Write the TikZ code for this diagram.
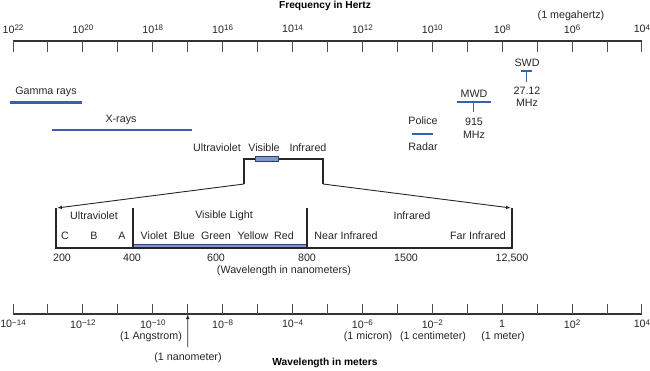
\documentclass[tikz,border=0pt]{standalone}
\usepackage{fontspec}
\setmainfont{Liberation Sans}
\usetikzlibrary{arrows.meta}
\definecolor{specblue}{HTML}{3A5FAD}
\definecolor{visfill}{HTML}{8397C9}
\definecolor{visedge}{HTML}{2E3F6E}
\newcommand{\sx}[1]{10\raisebox{0.45ex}{\fontsize{8}{9}\selectfont #1}}
\begin{document}
\begin{tikzpicture}[x=1pt,y=-1pt,
  font=\fontsize{10.7}{12.5}\selectfont,
  lbl/.style={inner sep=0pt, anchor=center, text=black!85},
  ttl/.style={inner sep=0pt, anchor=center, font=\fontsize{10.2}{12}\selectfont\bfseries},
  axis/.style={line width=1.1pt, black!80},
  tck/.style={line width=0.9pt, black!70},
  band/.style={line width=2.4pt, specblue},
  stem/.style={line width=1.3pt, specblue},
  brk/.style={line width=1.1pt, black!85},
  arr/.style={line width=0.9pt, black!85, -{Latex[length=5pt,width=3.5pt]}}]
\useasboundingbox (0,0) rectangle (650,371);

% ---------- Frequency axis ----------
\node[ttl] (ftitle) at (325,6) {Frequency in Hertz};
\coordinate (fa) at (13,41);
\coordinate (fb) at (642,41);
\draw[axis] (fa) -- (fb);
\foreach \i in {0,...,18} {
  \coordinate (ft\i) at ({13+34.94*\i},41);
  \coordinate (fe\i) at ({13+34.94*\i},52);
  \draw[tck] (ft\i) -- (fe\i);
}
\foreach \i/\e in {0/22,2/20,4/18,6/16,8/14,10/12,12/10,14/8,16/6,18/4} {
  \node[lbl] (fl\i) at ({13+34.94*\i},29) {\sx{\e}};
}
\node[lbl] (mhz) at (571,16) {(1 megahertz)};

% ---------- Bands ----------
\node[lbl] (gamma) at (46,92) {Gamma rays};
\coordinate (g1) at (10,102.5); \coordinate (g2) at (82,102.5);
\draw[band] (g1) -- (g2);
\node[lbl] (xray) at (121,120) {X-rays};
\coordinate (x1) at (52,130); \coordinate (x2) at (192,130);
\draw[band] (x1) -- (x2);

\node[lbl] (police) at (423,121) {Police};
\coordinate (p1) at (412,134); \coordinate (p2) at (433,134);
\draw[band] (p1) -- (p2);
\node[lbl] (radar) at (423,147) {Radar};

\node[lbl] (mwd) at (474,94) {MWD};
\coordinate (m1) at (457,102); \coordinate (m2) at (491,102);
\coordinate (ms1) at (473.5,102); \coordinate (ms2) at (473.5,112);
\draw[band] (m1) -- (m2);
\draw[stem] (ms1) -- (ms2);
\node[lbl, align=center] (mwdf) at (474,128.5) {915\\MHz};

\node[lbl] (swd) at (527,63) {SWD};
\coordinate (s1) at (520.5,71); \coordinate (s2) at (532,71);
\coordinate (ss1) at (526.5,71); \coordinate (ss2) at (526.5,82);
\draw[band] (s1) -- (s2);
\draw[stem] (ss1) -- (ss2);
\node[lbl, align=center] (swdf) at (527,97) {27.12\\MHz};

% ---------- Small optical bracket ----------
\node[lbl] (uvs) at (217,148) {Ultraviolet};
\node[lbl] (viss) at (264,148) {Visible};
\node[lbl] (irs) at (308,148) {Infrared};
\coordinate (sbl) at (244,184); \coordinate (sbtl) at (244,159);
\coordinate (sbtr) at (323,159); \coordinate (sbr) at (323,184);
\draw[brk] (sbl) -- (sbtl) -- (sbtr) -- (sbr);
\draw[fill=visfill, draw=visedge, line width=0.7pt] (255,156.8) rectangle (278,161.5);

% ---------- Expansion arrows ----------
\coordinate (bl) at (57,208);
\coordinate (br) at (511,208);
\draw[arr] (sbl) -- (bl);
\draw[arr] (sbr) -- (br);

% ---------- Large optical bracket ----------
\fill[visfill] (133,243.8) rectangle (307,248);
\draw[visedge, line width=0.6pt] (133,244) -- (307,244);
\coordinate (b0t) at (56,208); \coordinate (b0b) at (56,248);
\coordinate (b1t) at (133,208); \coordinate (b1b) at (133,248);
\coordinate (b2t) at (307,208); \coordinate (b2b) at (307,248);
\coordinate (b3t) at (512,208); \coordinate (b3b) at (512,248);
\draw[brk] (b0t) -- (b0b) -- (b3b) -- (b3t);
\draw[brk] (b1t) -- (b1b);
\draw[brk] (b2t) -- (b2b);

\node[lbl] (uvl) at (94,216) {Ultraviolet};
\node[lbl] (vll) at (224,216) {Visible Light};
\node[lbl] (irl) at (412,216) {Infrared};
\node[lbl] (c) at (65,236) {C};
\node[lbl] (b) at (94,236) {B};
\node[lbl] (a) at (122,236) {A};
\node[lbl] (violet) at (154,236) {Violet};
\node[lbl] (blue) at (184,236) {Blue};
\node[lbl] (green) at (216,236) {Green};
\node[lbl] (yellow) at (253,236) {Yellow};
\node[lbl] (red) at (284,236) {Red};
\node[lbl] (nir) at (346,236) {Near Infrared};
\node[lbl] (fir) at (478,236) {Far Infrared};

\node[lbl] (n200) at (62,258) {200};
\node[lbl] (n400) at (132,258) {400};
\node[lbl] (n600) at (216,258) {600};
\node[lbl] (n800) at (307,258) {800};
\node[lbl] (n1500) at (406,258) {1500};
\node[lbl] (n12500) at (512,258) {12,500};
\node[lbl] (wlnm) at (284,270.5) {(Wavelength in nanometers)};

% ---------- Wavelength axis ----------
\coordinate (wa) at (13,314);
\coordinate (wb) at (642,314);
\draw[axis] (wa) -- (wb);
\foreach \i in {0,...,18} {
  \coordinate (wt\i) at ({13+34.94*\i},314);
  \coordinate (we\i) at ({13+34.94*\i},304);
  \draw[tck] (wt\i) -- (we\i);
}
\foreach \i/\t in {0/\sx{−14},2/\sx{−12},4/\sx{−10},6/\sx{−8},8/\sx{−4},10/\sx{−6},12/\sx{−2},14/1,16/\sx{2},18/\sx{4}} {
  \node[lbl] (wl\i) at ({13+34.94*\i},324) {\t};
}
\node[lbl] (ang) at (151,337) {(1 Angstrom)};
\node[lbl] (micron) at (368,337) {(1 micron)};
\node[lbl] (cm) at (433,337) {(1 centimeter)};
\node[lbl] (meter) at (503,337) {(1 meter)};
\node[lbl] (nm) at (188,358) {(1 nanometer)};
\coordinate (nmtail) at (187.7,347);
\draw[arr] (nmtail) -- (wt5);
\node[ttl] (wtitle) at (325,363) {Wavelength in meters};
\end{tikzpicture}
\end{document}
